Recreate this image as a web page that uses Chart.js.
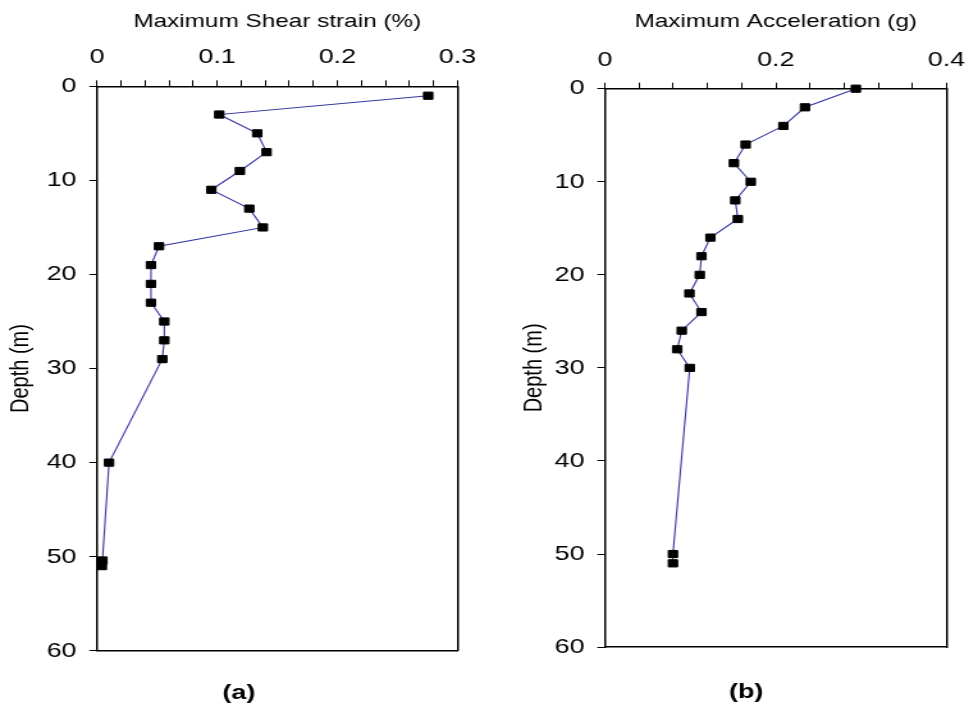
<!DOCTYPE html>
<html>
<head>
<meta charset="utf-8">
<script src="https://cdn.jsdelivr.net/npm/chart.js@4"></script>
<style>
    body { margin: 0; background: #fff; }
    #wrap { position: relative; width: 978px; height: 711px; }
    canvas { position: absolute; top: 0; }
</style>
</head>
<body>
<div id="wrap">
    <!-- drawn narrow, shown wide: the original figure is stretched sideways -->
    <canvas id="chartA" width="382" height="711" style="left: 0; width: 489px; height: 711px"></canvas>
    <canvas id="chartB" width="382" height="711" style="left: 489px; width: 489px; height: 711px"></canvas>
</div>
<script>

// (a) maximum shear strain vs depth
const depthA = [1, 3, 5, 7, 9, 11, 13, 15, 17, 19, 21, 23, 25, 27, 29, 40, 50.4, 51];
const strainA = [0.2756, 0.1017, 0.1333, 0.1411, 0.1189, 0.0951, 0.1267, 0.138, 0.0516, 0.0449, 0.0449, 0.0449, 0.056, 0.056, 0.0543, 0.010, 0.0045, 0.004];

// (b) maximum acceleration vs depth
const depthB = [0, 2, 4, 6, 8, 10, 12, 14, 16, 18, 20, 22, 24, 26, 28, 30, 50, 51];
const accelB = [0.2938, 0.2342, 0.2089, 0.1647, 0.151, 0.1707, 0.1526, 0.1556, 0.1235, 0.113, 0.111, 0.0989, 0.113, 0.0899, 0.0846, 0.0993, 0.0796, 0.0796];

const depthTicks = [0, 10, 20, 30, 40, 50, 60];

Chart.defaults.font.family = "'Liberation Sans', Arial, sans-serif";
Chart.defaults.color = "#000";

function makeChart(canvasId, cfg) {

    const points = cfg.xs.map((v, i) => ({ x: v, y: cfg.ys[i] }));

    return new Chart(document.getElementById(canvasId), {
        type: "scatter",
        data: {
            datasets: [{
                data: points,
                showLine: true,
                borderColor: "#3535a3",
                borderWidth: 1.1,
                pointStyle: "rect",
                pointRadius: 5.1,
                pointBorderWidth: 1,
                pointBackgroundColor: "#000",
                pointBorderColor: "#000",
                clip: false
            }]
        },
        options: {
            responsive: false,
            animation: false,
            devicePixelRatio: 1,
            layout: {
                padding: { left: cfg.padLeft, right: cfg.padRight, top: 0, bottom: cfg.padBottom }
            },
            plugins: {
                legend: { display: false },
                tooltip: { enabled: false },
                title: {
                    display: true,
                    text: cfg.caption,
                    position: "bottom",
                    font: { size: 21, weight: "bold" },
                    padding: 0
                }
            },
            scales: {
                x: {
                    type: "linear",
                    position: "top",
                    min: 0,
                    max: cfg.xMax,
                    afterFit: (scale) => { scale.height = cfg.topHeight; },
                    title: {
                        display: true,
                        text: cfg.xTitle,
                        font: { size: 19 },
                        padding: { top: 10, bottom: 0 }
                    },
                    ticks: {
                        stepSize: cfg.minorStep,
                        autoSkip: false,
                        maxRotation: 0,
                        padding: 10,
                        font: { size: 21 },
                        callback: (v) => {
                            const r = Math.round(v / cfg.labelStep);
                            if (Math.abs(v - r * cfg.labelStep) > 1e-6) return "";
                            return String(Math.round(v * 10) / 10);
                        }
                    },
                    grid: { drawOnChartArea: false, tickLength: 6, color: "#000" },
                    border: { color: "#000", width: 1.5 }
                },
                y: {
                    type: "linear",
                    position: "left",
                    reverse: true,
                    min: 0,
                    max: 60,
                    afterFit: (scale) => { scale.width = cfg.leftWidth; },
                    afterBuildTicks: (scale) => { scale.ticks = depthTicks.map((v) => ({ value: v })); },
                    title: {
                        display: true,
                        text: "Depth (m)",
                        font: { size: 20 },
                        padding: { top: 4, bottom: 0 }
                    },
                    ticks: {
                        padding: 10,
                        font: { size: 21 }
                    },
                    grid: { drawOnChartArea: false, tickLength: 6, color: "#000" },
                    border: { color: "#000", width: 1.5 }
                },
                // plain frame lines on the right and bottom
                x2: {
                    type: "linear",
                    position: "bottom",
                    min: 0,
                    max: 1,
                    afterFit: (scale) => { scale.height = cfg.bottomHeight; },
                    ticks: { display: false },
                    grid: { display: false, drawTicks: false },
                    border: { color: "#000", width: 1.5 }
                },
                y2: {
                    type: "linear",
                    position: "right",
                    min: 0,
                    max: 1,
                    afterFit: (scale) => { scale.width = cfg.rightWidth; },
                    ticks: { display: false },
                    grid: { display: false, drawTicks: false },
                    border: { color: "#000", width: 1.5 }
                }
            }
        }
    });
}

makeChart("chartA", {
    xs: strainA,
    ys: depthA,
    xMax: 0.3,
    minorStep: 0.02,
    labelStep: 0.1,
    xTitle: "Maximum Shear strain (%)",
    caption: "(a)",
    padLeft: 0,
    padRight: 8.6,
    padBottom: 5,
    leftWidth: 75.8,
    rightWidth: 15.6,
    topHeight: 86.3,
    bottomHeight: 30
});

makeChart("chartB", {
    xs: accelB,
    ys: depthB,
    xMax: 0.4,
    minorStep: 0.04,
    labelStep: 0.2,
    xTitle: "Maximum Acceleration (g)",
    caption: "(b)",
    padLeft: 19.6,
    padRight: 0,
    padBottom: 6,
    leftWidth: 71,
    rightWidth: 15.6,
    topHeight: 88.7,
    bottomHeight: 32.7
});

</script>
</body>
</html>
